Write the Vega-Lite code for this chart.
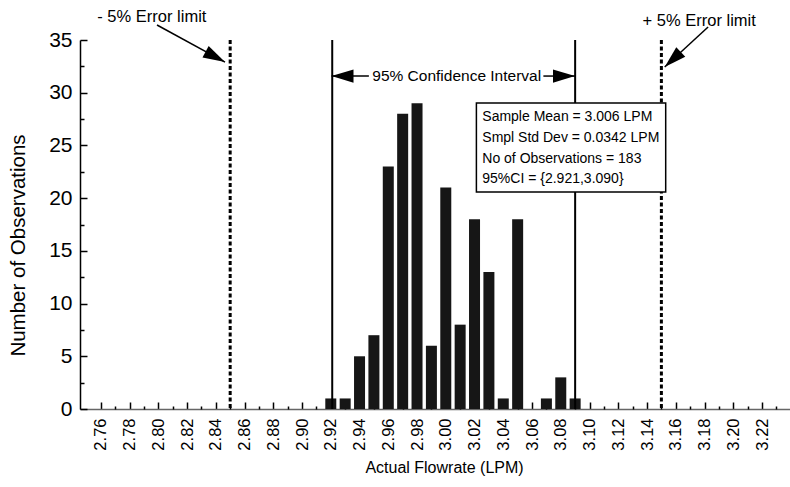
{
  "$schema": "https://vega.github.io/schema/vega-lite/v6.json",
  "width": 710,
  "height": 369,
  "autosize": "none",
  "padding": {"left": 80, "top": 40, "right": 0, "bottom": 78},
  "background": "white",
  "config": {"view": {"stroke": null}, "font": "Liberation Sans"},
  "resolve": {"axis": {"x": "independent", "y": "independent"}},
  "datasets": {
    "bars": [
      {"flow": 2.92, "count": 1}, {"flow": 2.93, "count": 1}, {"flow": 2.94, "count": 5},
      {"flow": 2.95, "count": 7}, {"flow": 2.96, "count": 23}, {"flow": 2.97, "count": 28},
      {"flow": 2.98, "count": 29}, {"flow": 2.99, "count": 6}, {"flow": 3.00, "count": 21},
      {"flow": 3.01, "count": 8}, {"flow": 3.02, "count": 18}, {"flow": 3.03, "count": 13},
      {"flow": 3.04, "count": 1}, {"flow": 3.05, "count": 18}, {"flow": 3.07, "count": 1},
      {"flow": 3.08, "count": 3}, {"flow": 3.09, "count": 1}
    ],
    "vlines": [
      {"flow": 2.85, "kind": "limit"}, {"flow": 3.15, "kind": "limit"},
      {"flow": 2.921, "kind": "ci"}, {"flow": 3.090, "kind": "ci"}
    ],
    "arrows": [
      {"x": 2.7991, "y": 36.42, "x2": 2.8464, "y2": 32.91, "dir": 118},
      {"x": 3.1825, "y": 36.23, "x2": 3.1523, "y2": 32.44, "dir": 227},
      {"x": 2.9465, "y": 31.58, "x2": 2.9205, "y2": 31.58, "dir": 270},
      {"x": 3.0679, "y": 31.58, "x2": 3.0899, "y2": 31.58, "dir": 90}
    ],
    "notes": [
      {"x": 2.7955, "y": 37.18, "text": "- 5% Error limit"},
      {"x": 3.1763, "y": 36.8, "text": "+ 5% Error limit"}
    ],
    "ci_note": [
      {"x": 3.0076, "y": 31.58, "text": "95% Confidence Interval"}
    ],
    "box": [{"x": 3.0213, "x2": 3.153, "y": 29.02, "y2": 20.58}],
    "stats": [
      {"x": 3.0254, "y": 27.7, "text": "Sample Mean = 3.006 LPM"},
      {"x": 3.0254, "y": 25.7, "text": "Smpl Std Dev = 0.0342 LPM"},
      {"x": 3.0254, "y": 23.71, "text": "No of Observations = 183"},
      {"x": 3.0254, "y": 21.82, "text": "95%CI = {2.921,3.090}"}
    ]
  },
  "layer": [
    {
      "data": {"name": "bars"},
      "mark": {"type": "bar", "size": 11, "color": "#161616"},
      "encoding": {
        "x": {
          "field": "flow", "type": "quantitative",
          "scale": {"domain": [2.749, 3.236], "nice": false, "zero": false},
          "axis": {
            "orient": "bottom",
            "values": [2.76, 2.78, 2.80, 2.82, 2.84, 2.86, 2.88, 2.90, 2.92, 2.94, 2.96, 2.98, 3.00, 3.02, 3.04, 3.06, 3.08, 3.10, 3.12, 3.14, 3.16, 3.18, 3.20, 3.22],
            "format": ".2f",
            "labelOverlap": false,
            "labelAngle": 270,
            "labelFontSize": 16.5,
            "labelColor": "#000",
            "labelPadding": 16,
            "tickSize": -7,
            "tickColor": "#000",
            "tickWidth": 1.5,
            "domainColor": "#666",
            "domainWidth": 1.5,
            "grid": false,
            "title": "Actual Flowrate (LPM)",
            "titleFontSize": 16,
            "titleFontWeight": "normal",
            "titleColor": "#000",
            "titleX": 364,
            "titleY": 58,
            "titleBaseline": "middle",
            "titleAlign": "center"
          }
        },
        "y": {
          "field": "count", "type": "quantitative",
          "scale": {"domain": [0, 35], "nice": false},
          "axis": {
            "orient": "left",
            "values": [0, 5, 10, 15, 20, 25, 30, 35],
            "labelOverlap": false,
            "labelFontSize": 21,
            "labelColor": "#000",
            "labelPadding": 15,
            "tickSize": -7,
            "tickColor": "#000",
            "tickWidth": 1.5,
            "domainColor": "#000",
            "domainWidth": 1.5,
            "grid": false,
            "title": "Number of Observations",
            "titleFontSize": 20.5,
            "titleFontWeight": "normal",
            "titleColor": "#000",
            "titleX": -62,
            "titleY": 205,
            "titleAngle": 270,
            "titleBaseline": "middle",
            "titleAlign": "center"
          }
        }
      }
    },
    {
      "mark": {"type": "rule", "color": "#555", "strokeWidth": 1.5},
      "encoding": {
        "y": {
          "datum": 35, "type": "quantitative",
          "axis": {
            "orient": "left",
            "values": [2.5, 7.5, 12.5, 17.5, 22.5, 27.5, 32.5],
            "labels": false,
            "domain": false,
            "grid": false,
            "title": null,
            "tickSize": -4,
            "tickColor": "#000",
            "tickWidth": 1.5
          }
        }
      }
    },
    {
      "data": {"name": "vlines"},
      "transform": [{"filter": "datum.kind == 'limit'"}],
      "mark": {"type": "rule", "color": "#000", "strokeWidth": 3, "strokeDash": [4, 2.5]},
      "encoding": {
        "x": {
          "field": "flow", "type": "quantitative",
          "axis": {
            "orient": "bottom",
            "values": [2.77, 2.79, 2.81, 2.83, 2.85, 2.87, 2.89, 2.91, 2.93, 2.95, 2.97, 2.99, 3.01, 3.03, 3.05, 3.07, 3.09, 3.11, 3.13, 3.15, 3.17, 3.19, 3.21, 3.23],
            "labels": false,
            "domain": false,
            "grid": false,
            "title": null,
            "tickSize": -3,
            "tickColor": "#000",
            "tickWidth": 1.5
          }
        }
      }
    },
    {
      "data": {"name": "vlines"},
      "transform": [{"filter": "datum.kind == 'ci'"}],
      "mark": {"type": "rule", "color": "#000", "strokeWidth": 2},
      "encoding": {"x": {"field": "flow", "type": "quantitative", "axis": null}}
    },
    {
      "data": {"name": "arrows"},
      "mark": {"type": "rule", "color": "#000", "strokeWidth": 1.5},
      "encoding": {
        "x": {"field": "x", "type": "quantitative", "axis": null},
        "y": {"field": "y", "type": "quantitative", "axis": null},
        "x2": {"field": "x2"},
        "y2": {"field": "y2"}
      }
    },
    {
      "data": {"name": "arrows"},
      "mark": {"type": "point", "shape": "M0,0L0.6,2L-0.6,2Z", "filled": true, "color": "#000", "opacity": 1, "size": 484},
      "encoding": {
        "x": {"field": "x2", "type": "quantitative", "axis": null},
        "y": {"field": "y2", "type": "quantitative", "axis": null},
        "angle": {"field": "dir", "type": "quantitative", "scale": null}
      }
    },
    {
      "data": {"name": "notes"},
      "mark": {"type": "text", "fontSize": 16.5, "color": "#000", "align": "center", "baseline": "middle"},
      "encoding": {
        "x": {"field": "x", "type": "quantitative", "axis": null},
        "y": {"field": "y", "type": "quantitative", "axis": null},
        "text": {"field": "text"}
      }
    },
    {
      "data": {"name": "ci_note"},
      "mark": {"type": "text", "fontSize": 15.5, "color": "#000", "align": "center", "baseline": "middle"},
      "encoding": {
        "x": {"field": "x", "type": "quantitative", "axis": null},
        "y": {"field": "y", "type": "quantitative", "axis": null},
        "text": {"field": "text"}
      }
    },
    {
      "data": {"name": "box"},
      "mark": {"type": "rect", "fill": "white", "stroke": "#000", "strokeWidth": 1.5},
      "encoding": {
        "x": {"field": "x", "type": "quantitative", "axis": null},
        "x2": {"field": "x2"},
        "y": {"field": "y", "type": "quantitative", "axis": null},
        "y2": {"field": "y2"}
      }
    },
    {
      "data": {"name": "stats"},
      "mark": {"type": "text", "fontSize": 14, "color": "#000", "align": "left", "baseline": "middle"},
      "encoding": {
        "x": {"field": "x", "type": "quantitative", "axis": null},
        "y": {"field": "y", "type": "quantitative", "axis": null},
        "text": {"field": "text"}
      }
    }
  ]
}
